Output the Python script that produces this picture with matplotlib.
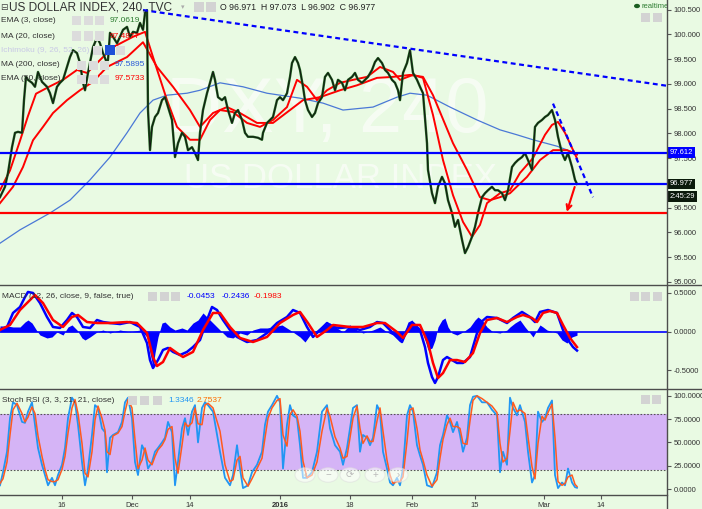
import matplotlib
matplotlib.use("Agg")
import matplotlib.pyplot as plt
import matplotlib.transforms as mtransforms
from matplotlib.lines import Line2D
from matplotlib.patches import Rectangle, Circle

plt.rcParams['font.family'] = ['Liberation Sans', 'DejaVu Sans']

# ---- data (x = bar position, 4h bars) ----
price_x = [0, 5, 8, 12, 15, 18, 22, 24, 26, 28, 32, 35, 38, 42, 47, 50, 53, 57, 60, 63,
           67, 70, 73, 77, 80, 83, 85, 88, 93, 97, 100, 103, 107, 108, 110, 113, 117, 120, 123, 127,
           130, 133, 137, 140, 143, 145, 147, 148, 150, 152, 155, 158, 162, 165, 168, 172, 175, 178, 182, 185,
           188, 192, 195, 198, 200,
           203, 207, 210, 213, 215, 218, 222, 225, 228, 232, 235, 238, 242, 245, 248, 253, 258, 262, 263, 267,
           270, 273, 277, 280, 283, 287, 290, 292, 295, 298, 300, 303, 305, 308, 312, 315, 318, 322, 325, 328,
           332, 335, 338, 342, 345, 348, 352, 355, 358, 362, 365, 368, 372, 375, 378, 382, 385, 388, 392, 395,
           398, 400,
           403, 407, 410, 413, 417, 420, 423, 427, 428, 432, 435, 438, 442, 445, 448, 452, 455, 458, 462, 465,
           468, 472, 475, 478, 482, 485, 488, 492, 495, 498, 502, 505, 508, 512, 515, 518, 522, 525, 528, 532,
           535, 538, 542, 545, 548, 552, 555, 558, 562, 565, 568, 572, 575, 577]
price_close = [96.71, 96.92, 97.20, 97.72, 98.01, 98.03, 98.01, 98.67, 99.14, 99.08,
               99.02, 98.94, 99.24, 99.04, 98.94, 98.81, 98.61, 98.94, 99.02, 99.08,
               99.34, 99.54, 99.68, 99.62, 99.42, 99.02, 98.87, 99.22, 99.74, 99.93,
               99.82, 99.62, 99.42, 99.48, 100.03, 99.95, 99.82, 99.95, 100.09, 100.15,
               99.95, 100.05, 100.03, 100.23, 100.09, 100.43, 100.49, 98.47, 97.66, 98.13,
               98.33, 98.41, 98.67, 98.73, 98.53, 98.27, 97.52, 97.80, 98.01, 97.93,
               97.66, 97.72, 97.60, 97.46, 98.01,
               98.47, 98.81, 99.02, 99.24, 99.08, 98.73, 98.67, 98.73, 98.47, 98.21,
               98.41, 98.47, 98.27, 98.01, 97.93, 97.93, 97.91, 97.87, 98.01, 98.21,
               98.27, 98.33, 98.67, 98.73, 98.67, 98.81, 99.14, 99.42, 99.54, 99.42,
               99.28, 98.94, 98.67, 98.47, 98.33, 98.41, 98.61, 98.73, 99.14, 99.22,
               99.08, 98.87, 99.08, 99.02, 98.87, 99.08, 99.14, 99.22, 99.08, 99.02,
               99.08, 99.14, 99.28, 99.44, 99.52, 99.42, 99.28, 99.22, 99.08, 99.02,
               98.87, 98.67,
               99.22, 99.42, 99.68, 99.22, 99.08, 98.94, 98.81, 97.80, 97.26, 96.79,
               96.59, 96.92, 97.12, 96.99, 96.65, 96.39, 96.11, 96.25, 95.85, 95.58,
               95.70, 95.91, 96.11, 96.39, 96.71, 96.79, 96.85, 96.92, 96.85, 96.85,
               96.79, 96.65, 96.85, 97.32, 97.40, 97.46, 97.52, 97.60, 97.46, 97.26,
               98.13, 98.21, 98.27, 98.33, 98.37, 98.47, 98.27, 97.93, 97.60, 97.46,
               97.60, 97.32, 97.06, 96.977]

ma20_x = [0, 10, 20, 28, 36, 50, 63, 77, 87, 100, 113, 133, 145, 153, 167, 177, 190, 200, 210, 220,
          233, 247, 260, 273, 287, 297, 307, 317, 327, 340, 353, 367, 380, 393, 400, 413, 423, 433, 443, 453,
          463, 472, 480, 487, 500, 510, 520, 533, 545, 552, 558, 565, 577]
ma20 = [96.85, 97.25, 97.85, 98.35, 98.80, 98.95, 99.08, 99.28, 99.22, 99.48,
        99.74, 99.95, 100.05, 99.54, 98.67, 98.13, 97.87, 97.87, 98.27, 98.47,
        98.43, 98.21, 98.13, 98.27, 98.53, 99.08, 98.94, 98.67, 98.87, 99.02,
        99.08, 99.14, 99.34, 99.24, 99.08, 99.18, 99.12, 98.37, 97.46, 96.75,
        96.21, 95.91, 96.15, 96.59, 96.79, 96.85, 97.20, 97.50, 97.97, 98.17,
        98.23, 98.01, 97.49]

ema50_x = [0, 13, 23, 33, 43, 53, 67, 80, 93, 107, 127, 143, 157, 173, 190, 200, 213, 227, 240, 257,
           273, 290, 303, 320, 340, 357, 377, 393, 410, 423, 433, 453, 467, 480, 490, 500, 510, 527, 540, 553,
           567, 577]
ema50 = [96.59, 96.92, 97.32, 97.86, 98.13, 98.41, 98.67, 98.87, 99.04, 99.34,
         99.54, 99.84, 99.34, 98.94, 98.47, 98.13, 98.41, 98.53, 98.41, 98.21,
         98.21, 98.47, 98.67, 98.73, 98.87, 98.97, 99.12, 99.14, 99.18, 99.14,
         98.77, 97.80, 97.26, 96.71, 96.65, 96.71, 96.79, 97.12, 97.46, 97.66,
         97.66, 97.57]

ma200_x = [0, 20, 50, 70, 90, 110, 127, 140, 153, 167, 187, 200, 220, 243, 267, 300, 323, 343, 373, 397,
           410, 427, 450, 477, 500, 517, 533, 557, 577]
ma200 = [95.78, 96.05, 96.39, 96.65, 97.06, 97.52, 98.01, 98.41, 98.67, 98.77,
         98.81, 98.87, 99.02, 98.94, 98.81, 98.71, 98.61, 98.47, 98.53, 98.73,
         98.81, 98.77, 98.53, 98.27, 98.07, 97.97, 97.87, 97.74, 97.59]

level_blue = [97.612, 96.977]
level_red = 96.384
trend1_x, trend1_y = [143, 667], [100.49, 98.96]
trend2_x, trend2_y = [553, 593], [98.60, 96.71]
arrow_from, arrow_to = (575.5, 96.97), (566, 96.36)

macd_x = [0, 7, 13, 20, 25, 28, 33, 40, 47, 53, 60, 67, 72, 77, 83, 90, 97, 103, 110, 120,
          130, 140, 147, 150, 153, 158, 163, 168, 173, 180, 187, 193, 200, 207, 212, 217, 223, 230, 237, 247,
          257, 267, 277, 287, 293, 300, 307, 313, 320, 327, 333, 340, 350, 360, 370, 377, 383, 393, 402, 407,
          413, 420, 425, 428, 432, 435, 438, 443, 447, 452, 457, 463, 470, 475, 480, 487, 497, 507, 513, 522,
          530, 535, 540, 548, 557, 563, 568, 573, 577]
macd = [0.022, 0.061, 0.242, 0.319, 0.448, 0.513, 0.500, 0.370, 0.190, 0.061,
        0.048, 0.151, 0.242, 0.190, 0.061, 0.048, 0.151, 0.125, 0.112, 0.099,
        0.125, 0.061, -0.146, -0.366, -0.469, -0.366, -0.236, -0.210, -0.261, -0.301,
        -0.261, -0.198, -0.107, 0.151, 0.319, 0.280, 0.151, 0.022, -0.068, -0.133,
        -0.107, -0.017, 0.112, 0.190, 0.280, 0.242, 0.061, -0.068, 0.022, 0.112,
        0.061, 0.048, 0.061, 0.022, 0.061, 0.125, 0.112, -0.017, -0.133, 0.022,
        0.112, 0.022, -0.198, -0.404, -0.585, -0.662, -0.585, -0.366, -0.327, -0.366,
        -0.404, -0.404, -0.327, -0.107, 0.112, 0.190, 0.177, 0.112, 0.177, 0.255,
        0.190, 0.125, 0.255, 0.280, 0.242, 0.022, -0.107, -0.198, -0.2436]

signal_x = [0, 10, 20, 30, 35, 43, 53, 63, 72, 78, 87, 97, 110, 127, 137, 147, 153, 157, 163, 170,
            177, 183, 193, 203, 213, 220, 230, 240, 253, 267, 280, 293, 300, 308, 317, 327, 333, 350, 363, 377,
            385, 397, 403, 412, 420, 428, 433, 438, 443, 450, 457, 465, 473, 480, 487, 497, 507, 517, 523, 532,
            537, 543, 550, 557, 563, 570, 577]
signal = [0.022, 0.087, 0.280, 0.409, 0.474, 0.370, 0.151, 0.061, 0.190, 0.216,
          0.125, 0.112, 0.112, 0.125, 0.112, -0.017, -0.327, -0.443, -0.391, -0.210,
          -0.275, -0.327, -0.261, 0.022, 0.242, 0.242, 0.061, -0.081, -0.133, -0.068,
          0.112, 0.216, 0.255, 0.112, -0.068, 0.022, 0.087, 0.061, 0.061, 0.112,
          0.112, -0.004, -0.081, 0.087, 0.087, -0.146, -0.404, -0.598, -0.534, -0.366,
          -0.366, -0.391, -0.275, -0.017, 0.151, 0.177, 0.125, 0.190, 0.216, 0.177,
          0.125, 0.242, 0.267, 0.242, 0.087, -0.081, -0.1983]

hist_x = [0, 7, 13, 20, 25, 28, 32, 37, 40, 47, 52, 57, 63, 68, 72, 77, 82, 85, 90, 97,
          103, 110, 120, 130, 140, 147, 150, 153, 155, 158, 162, 165, 170, 175, 182, 187, 193, 198, 203, 208,
          213, 220, 227, 233, 240, 247, 253, 260, 267, 273, 282, 290, 300, 305, 310, 317, 323, 330, 337, 343,
          350, 357, 363, 373, 380, 387, 393, 400, 405, 408, 412, 417, 422, 425, 428, 432, 435, 438, 442, 445,
          448, 452, 457, 463, 470, 475, 478, 482, 487, 493, 500, 507, 510, 515, 520, 525, 530, 533, 537, 540,
          543, 547, 550, 557, 562, 567, 572, 577]
hist = [0.074, 0.074, 0.061, 0.061, 0.125, 0.151, 0.112, 0.009, -0.043, -0.081,
        -0.068, -0.004, -0.043, 0.061, 0.087, 0.022, -0.081, -0.107, -0.068, -0.004,
        0.022, -0.017, 0.022, -0.004, 0.022, -0.068, -0.275, -0.456, -0.275, -0.068,
        0.112, 0.125, 0.061, 0.022, 0.048, 0.022, 0.112, 0.151, 0.242, 0.177,
        0.112, 0.022, -0.068, -0.081, -0.017, -0.043, 0.022, 0.048, 0.048, 0.061,
        0.087, 0.022, -0.068, -0.133, -0.043, 0.022, 0.087, 0.112, 0.048, -0.004,
        0.087, 0.022, -0.017, 0.022, 0.061, -0.004, -0.043, -0.133, 0.022, 0.125,
        0.151, 0.061, 0.022, -0.107, -0.236, -0.210, -0.107, 0.061, 0.151, 0.177,
        0.061, -0.017, -0.043, -0.004, 0.061, 0.151, 0.190, 0.151, 0.061, -0.004,
        -0.017, 0.022, 0.061, 0.112, 0.151, 0.061, -0.017, -0.068, 0.022, 0.087,
        0.061, 0.022, 0.009, -0.017, -0.107, -0.146, -0.068, -0.0453]

stoch_x = [0, 3, 7, 10, 13, 17, 22, 25, 28, 32, 35, 38, 42, 45, 48, 52, 55, 58, 62, 65,
           68, 72, 75, 78, 82, 85, 88, 92, 95, 98, 102, 105, 107, 110, 113, 118, 122, 125, 128, 132,
           135, 138, 142, 145, 148, 152, 155, 158, 162, 165, 168, 172, 175, 178, 182, 185, 188, 192, 195, 198,
           202, 205, 208, 213, 220, 225, 230, 233, 237, 240, 243, 248, 252, 257, 262, 265, 268, 272, 277, 280,
           283, 287, 290, 293, 297, 300, 303, 307, 312, 317, 322, 327, 330, 335, 340, 343, 347, 350, 353, 357,
           360, 363, 367, 370, 373, 377, 380, 383, 387, 390, 393, 397, 400, 403, 407, 410, 413, 417, 420, 423,
           427, 432, 437, 440, 443, 447, 450, 453, 457, 460, 463, 467, 470, 473, 477, 482, 487, 492, 497, 500,
           503, 507, 510, 513, 517, 520, 525, 528, 532, 535, 538, 542, 545, 548, 552, 555, 558, 562, 565, 568,
           572, 575, 577]
stoch_k = [4, 18, 40, 76, 93, 90, 72, 71, 83, 93, 69, 44, 26, 15, 4, 12, 4, 15, 26, 44,
           76, 98, 93, 69, 29, 4, 22, 58, 90, 87, 65, 61, 18, 55, 58, 61, 72, 93, 98, 76,
           29, 15, 47, 40, 22, 29, 40, 44, 50, 55, 72, 61, 4, 29, 65, 76, 58, 83, 90, 50,
           87, 93, 90, 83, 40, 12, 4, 15, 47, 22, 1, 4, 18, 26, 40, 69, 83, 90, 100, 93,
           22, 69, 90, 79, 76, 47, 12, 12, 18, 40, 83, 90, 65, 47, 40, 26, 44, 65, 87, 90,
           40, 58, 55, 47, 55, 90, 83, 40, 22, 7, 4, 12, 4, 22, 79, 90, 83, 47, 36, 26,
           4, 2, 18, 47, 58, 79, 72, 61, 72, 58, 40, 55, 90, 99, 100, 93, 93, 85, 79, 18,
           40, 26, 98, 87, 79, 90, 72, 40, 7, 15, 83, 72, 76, 87, 95, 15, 1, 7, 4, 22,
           7, 2, 1.3346]
stoch_d = [6, 11, 29, 58, 85, 92, 81, 72, 77, 88, 81, 57, 35, 21, 10, 8, 8, 10, 21, 35,
           60, 87, 96, 81, 49, 17, 13, 40, 74, 89, 76, 63, 40, 37, 57, 60, 67, 83, 96, 87,
           53, 22, 31, 44, 31, 26, 35, 42, 47, 53, 64, 67, 33, 17, 47, 71, 67, 71, 87, 70,
           69, 90, 92, 87, 62, 26, 8, 10, 31, 35, 12, 3, 11, 22, 33, 55, 76, 87, 95, 97,
           58, 46, 80, 85, 78, 62, 30, 12, 15, 29, 62, 87, 78, 56, 44, 33, 35, 55, 76, 89,
           65, 49, 57, 51, 51, 73, 87, 62, 31, 15, 6, 8, 8, 13, 51, 85, 87, 65, 42, 31,
           15, 3, 10, 33, 53, 69, 76, 67, 67, 65, 49, 48, 73, 95, 100, 97, 93, 89, 82, 49,
           29, 33, 62, 93, 83, 85, 81, 56, 24, 11, 49, 78, 74, 82, 91, 55, 8, 4, 6, 13,
           15, 5, 2.7537]

date_pos = [62, 132, 190, 280, 350, 412, 475, 544, 601]
date_lbl = ['16', 'Dec', '14', '2016', '18', 'Feb', '15', 'Mar', '14']
price_ticks = [95.0, 95.5, 96.0, 96.5, 97.0, 97.5, 98.0, 98.5, 99.0, 99.5, 100.0, 100.5]
price_tick_lbl = ['95.000', '95.500', '96.000', '96.500', '', '97.500', '98.000', '98.500',
                  '99.000', '99.500', '100.000', '100.500']
macd_ticks = [-0.5, 0.0, 0.5]
stoch_ticks = [0, 25, 50, 75, 100]

# ---- layout ----
BG = '#e9fae3'
W, H = 702, 509
fig = plt.figure(figsize=(7.02, 5.09), dpi=100, facecolor=BG)


def box(x0, y0, x1, y1):
    return [x0 / W, 1 - y1 / H, (x1 - x0) / W, (y1 - y0) / H]


def ft(x, y, s, **kw):
    kw.setdefault('va', 'center')
    kw.setdefault('ha', 'left')
    return fig.text(x / W, 1 - y / H, s, **kw)


def icon(x, y, w=9, h=9, fc='#d3d3d3'):
    fig.add_artist(Rectangle((x / W, 1 - (y + h) / H), w / W, h / H, transform=fig.transFigure,
                             fc=fc, ec='none', zorder=20))


ax_p = fig.add_axes(box(0, 0, 667, 285))
ax_m = fig.add_axes(box(0, 285, 667, 389))
ax_s = fig.add_axes(box(0, 389, 667, 495))

for ax in (ax_p, ax_m, ax_s):
    ax.set_facecolor(BG)
    ax.set_xlim(0, 667)
    for s in ax.spines.values():
        s.set_visible(False)
    ax.yaxis.tick_right()
    ax.tick_params(axis='y', length=3, width=0.8, color='#555555', labelsize=5.5,
                   labelcolor='#333333', pad=1.5)
    ax.tick_params(axis='x', bottom=False, labelbottom=False)

# main price panel
ax_p.set_ylim(94.936, 100.693)
ax_p.set_yticks(price_ticks, price_tick_lbl)
ax_p.text(0.49, 0.61, 'DXY, 240', transform=ax_p.transAxes, fontsize=56, color='white',
          alpha=0.6, ha='center', va='center', zorder=1)
ax_p.text(0.51, 0.375, 'US DOLLAR INDEX', transform=ax_p.transAxes, fontsize=25, color='white',
          alpha=0.6, ha='center', va='center', zorder=1)
ax_p.plot(ma200_x, ma200, color='#4a78d6', lw=0.9, zorder=3)
ax_p.plot(ema50_x, ema50, color='#ff0000', lw=1.4, zorder=3)
ax_p.plot(ma20_x, ma20, color='#ff0000', lw=1.4, zorder=3)
ax_p.plot(price_x, price_close, color='#1d5a1d', lw=1.7, zorder=4)
ax_p.plot(price_x, price_close, color='#111111', lw=0.6, zorder=5)
for lv in level_blue:
    ax_p.axhline(lv, color='#0000ff', lw=1.6, zorder=6)
ax_p.axhline(level_red, color='#ff0000', lw=1.6, zorder=6)
ax_p.plot(trend1_x, trend1_y, color='#0000ff', lw=1.6, ls=(0, (2.2, 1.6)), zorder=6)
ax_p.plot(trend2_x, trend2_y, color='#0000ff', lw=1.6, ls=(0, (2.2, 1.6)), zorder=6)
ax_p.annotate('', xy=arrow_to, xytext=arrow_from,
              arrowprops=dict(arrowstyle='->', color='#ff0000', lw=1.5, mutation_scale=9), zorder=7)

tr = mtransforms.blended_transform_factory(ax_p.transAxes, ax_p.transData)
ax_p.text(1.004, level_blue[0], f'{level_blue[0]:.3f}', transform=tr, fontsize=5.5, color='white',
          va='center', ha='left', clip_on=False, zorder=10,
          bbox=dict(boxstyle='square,pad=0.25', fc='#0000ff', ec='none'))
ax_p.text(1.004, level_blue[1], f'{level_blue[1]:.3f}', transform=tr, fontsize=5.5, color='white',
          va='center', ha='left', clip_on=False, zorder=10,
          bbox=dict(boxstyle='square,pad=0.25', fc='#0b1a0b', ec='none'))
ax_p.text(1.004, 96.725, '2:45:29', transform=tr, fontsize=5.5, color='white',
          va='center', ha='left', clip_on=False, zorder=10,
          bbox=dict(boxstyle='square,pad=0.25', fc='#0b1a0b', ec='none'))

# MACD panel
ax_m.set_ylim(-0.740, 0.603)
ax_m.set_yticks(macd_ticks, [f'{t:.4f}' for t in macd_ticks])
ax_m.fill_between(hist_x, 0, hist, color='#0000ff', lw=0, zorder=2)
ax_m.axhline(0, color='#0000ff', lw=1.2, zorder=2)
ax_m.plot(macd_x, macd, color='#0000ff', lw=1.8, zorder=3)
ax_m.plot(signal_x, signal, color='#ff0000', lw=1.8, zorder=4)

# Stoch RSI panel
ax_s.set_ylim(-6.4, 107.3)
ax_s.set_yticks(stoch_ticks, [f'{t:.4f}' for t in stoch_ticks])
ax_s.axhspan(20, 80, color='#d5b4f6', lw=0, zorder=1)
ax_s.axhline(80, color='#555555', lw=0.8, ls=(0, (1.5, 1.5)), zorder=2)
ax_s.axhline(20, color='#555555', lw=0.8, ls=(0, (1.5, 1.5)), zorder=2)
ax_s.plot(stoch_x, stoch_k, color='#2196f3', lw=1.3, zorder=3)
ax_s.plot(stoch_x, stoch_d, color='#ff5a1f', lw=1.1, zorder=4)
ax_s.set_xticks(date_pos, date_lbl)
ax_s.tick_params(axis='x', bottom=True, labelbottom=True, length=3, width=0.8, color='#555555',
                 labelsize=5.5, labelcolor='#333333', pad=2)
for t in ax_s.get_xticklabels():
    if t.get_text() == '2016':
        t.set_fontweight('bold')

for xc in [305, 328, 350, 375, 398]:
    fig.add_artist(Circle((xc / W, 1 - 475 / H), 10 / W, transform=fig.transFigure,
                          fc='white', ec='#dddddd', alpha=0.55, lw=0.8, zorder=20))
for xc, s in zip([305, 328, 350, 375, 398], ['‹', '−', '⟳', '+', '›']):
    ft(xc, 475, s, ha='center', fontsize=7, color='#bbbbbb', zorder=21)

# frame lines
for yy in (285, 389):
    fig.add_artist(Line2D([0, 1], [1 - yy / H] * 2, transform=fig.transFigure, color='#4d4d4d', lw=1, zorder=15))
fig.add_artist(Line2D([0, 667 / W], [1 - 495 / H] * 2, transform=fig.transFigure, color='#4d4d4d', lw=1, zorder=15))
fig.add_artist(Line2D([667 / W] * 2, [0, 1], transform=fig.transFigure, color='#4d4d4d', lw=1, zorder=15))

# header texts
ft(0, 7, '⊟', fontsize=6.5, color='#444444', family='DejaVu Sans')
ft(9, 7, 'US DOLLAR INDEX, 240, TVC', fontsize=8.6, color='#333333')
ft(181, 7, '▾', fontsize=5, color='#aaaaaa', family='DejaVu Sans')
icon(194, 2, 10, 10)
icon(206, 2, 10, 10)
ft(220, 7, 'O 96.971  H 97.073  L 96.902  C 96.977', fontsize=6.3, color='#222222')

rows = [('EMA (3, close)', '97.0619', '#2e7d32', 21, 72, 110),
        ('MA (20, close)', '97.4877', '#ff0000', 36, 72, 110),
        ('Ichimoku (9, 26, 52, 26)', '', '#c9c9e6', 50, 93, 0),
        ('MA (200, close)', '97.5895', '#2a5bd7', 65, 77, 115),
        ('EMA (50, close)', '97.5733', '#ff0000', 79, 77, 115)]
for lbl, val, col, yy, ix, vx in rows:
    ft(1, yy, lbl, fontsize=6, color='#c9c9e6' if not val else '#333333')
    for k in range(3):
        icon(ix + 11.5 * k, yy - 4.5, 9, 9, fc='#dcdcdc')
    if val:
        ft(vx, yy, val, fontsize=6, color=col)
icon(105, 45, 10, 10, fc='#1e4fd8')

ft(2, 296, 'MACD (12, 26, close, 9, false, true)', fontsize=6, color='#333333')
for k in range(3):
    icon(148 + 11.5 * k, 292, 9, 9)
ft(187, 296, '-0.0453', fontsize=6, color='#0000ff')
ft(222, 296, '-0.2436', fontsize=6, color='#0000ff')
ft(254, 296, '-0.1983', fontsize=6, color='#ff0000')
for k in range(3):
    icon(630 + 11.3 * k, 292, 9, 9)

ft(2, 400, 'Stoch RSI (3, 3, 21, 21, close)', fontsize=6, color='#333333')
for k in range(3):
    icon(128 + 12.3 * k, 396, 9, 9)
ft(168, 400, '1.3346', fontsize=6, color='#2196f3')
ft(197, 400, '2.7537', fontsize=6, color='#ff6d00')
for k in range(2):
    icon(641 + 11.3 * k, 395, 9, 9)

fig.add_artist(Circle((637 / W, 1 - 6 / H), 3 / W, transform=fig.transFigure, fc='#1b5e20', ec='none', zorder=20))
ft(642, 6, 'realtime', fontsize=5.5, color='#2e7d32')
icon(641, 13, 9, 9)
icon(653, 13, 9, 9)

fig.savefig('out.png', dpi=100, facecolor=BG)
